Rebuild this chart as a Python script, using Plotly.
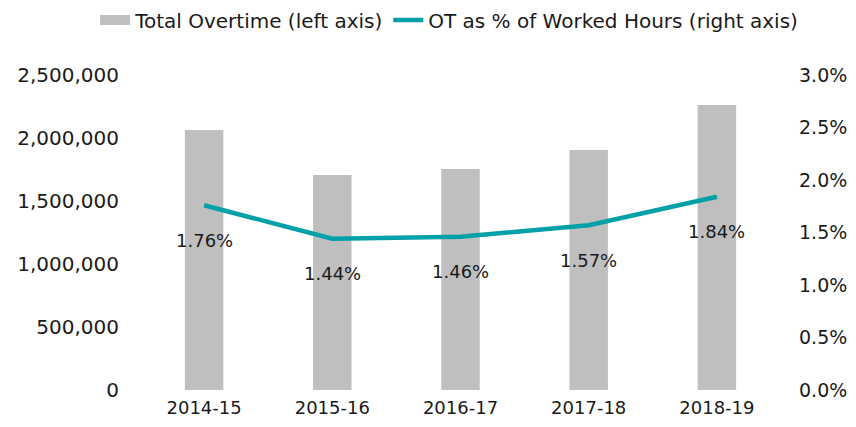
import plotly.graph_objects as go

categories = ["2014-15", "2015-16", "2016-17", "2017-18", "2018-19"]
total_overtime = [2063000, 1706000, 1754000, 1905000, 2262000]
ot_pct = [1.76, 1.44, 1.46, 1.57, 1.84]
ot_labels = ["1.76%", "1.44%", "1.46%", "1.57%", "1.84%"]

left_ticks = [0, 500000, 1000000, 1500000, 2000000, 2500000]
left_ticktext = ["0", "500,000", "1,000,000", "1,500,000", "2,000,000", "2,500,000"]
right_ticks = [0, 0.5, 1.0, 1.5, 2.0, 2.5, 3.0]
right_ticktext = ["0.0%", "0.5%", "1.0%", "1.5%", "2.0%", "2.5%", "3.0%"]

FONT = "DejaVu Sans"
BAR_COLOR = "#BFBFBF"
LINE_COLOR = "#00A0A8"

fig = go.Figure()
fig.add_trace(go.Bar(
    x=categories, y=total_overtime, name="Total Overtime (left axis)",
    marker=dict(color=BAR_COLOR, line=dict(width=0)), width=0.3,
    yaxis="y", showlegend=False,
))
# legend proxy for the bar series (wide grey rectangle swatch)
fig.add_trace(go.Scatter(
    x=[None], y=[None], name="Total Overtime (left axis)", mode="lines",
    line=dict(color=BAR_COLOR, width=14), showlegend=True, hoverinfo="skip",
))
fig.add_trace(go.Scatter(
    x=categories, y=ot_pct, name="OT as % of Worked Hours (right axis)",
    mode="lines", line=dict(color=LINE_COLOR, width=4.5),
    yaxis="y2",
))
for c, v, t in zip(categories, ot_pct, ot_labels):
    fig.add_annotation(x=c, y=v, yref="y2", text=t, showarrow=False,
                       yshift=-35, font=dict(size=18, color="#1a1a1a", family=FONT))

fig.update_layout(
    width=840, height=411,
    margin=dict(l=132, r=67, t=67, b=29, autoexpand=False),
    plot_bgcolor="white", paper_bgcolor="white",
    font=dict(family=FONT, size=18, color="#1a1a1a"),
    showlegend=True,
    legend=dict(orientation="h", xref="paper", yref="paper",
                x=-0.07, y=1.175, xanchor="left", yanchor="middle",
                font=dict(size=20), traceorder="normal"),
    xaxis=dict(showgrid=False, showline=False, ticks="", tickfont=dict(size=18),
               ticklabelstandoff=5, automargin=False),
    yaxis=dict(range=[0, 2500000], tickvals=left_ticks, ticktext=left_ticktext,
               showgrid=False, zeroline=False, showline=False, ticks="",
               tickfont=dict(size=20), ticklabelstandoff=20, automargin=False),
    yaxis2=dict(range=[0, 3.0], tickvals=right_ticks, ticktext=right_ticktext,
                overlaying="y", side="right", showgrid=False, zeroline=False,
                showline=False, ticks="", tickfont=dict(size=19), ticklabelstandoff=17,
                automargin=False),
)
fig.write_html("out.html")
